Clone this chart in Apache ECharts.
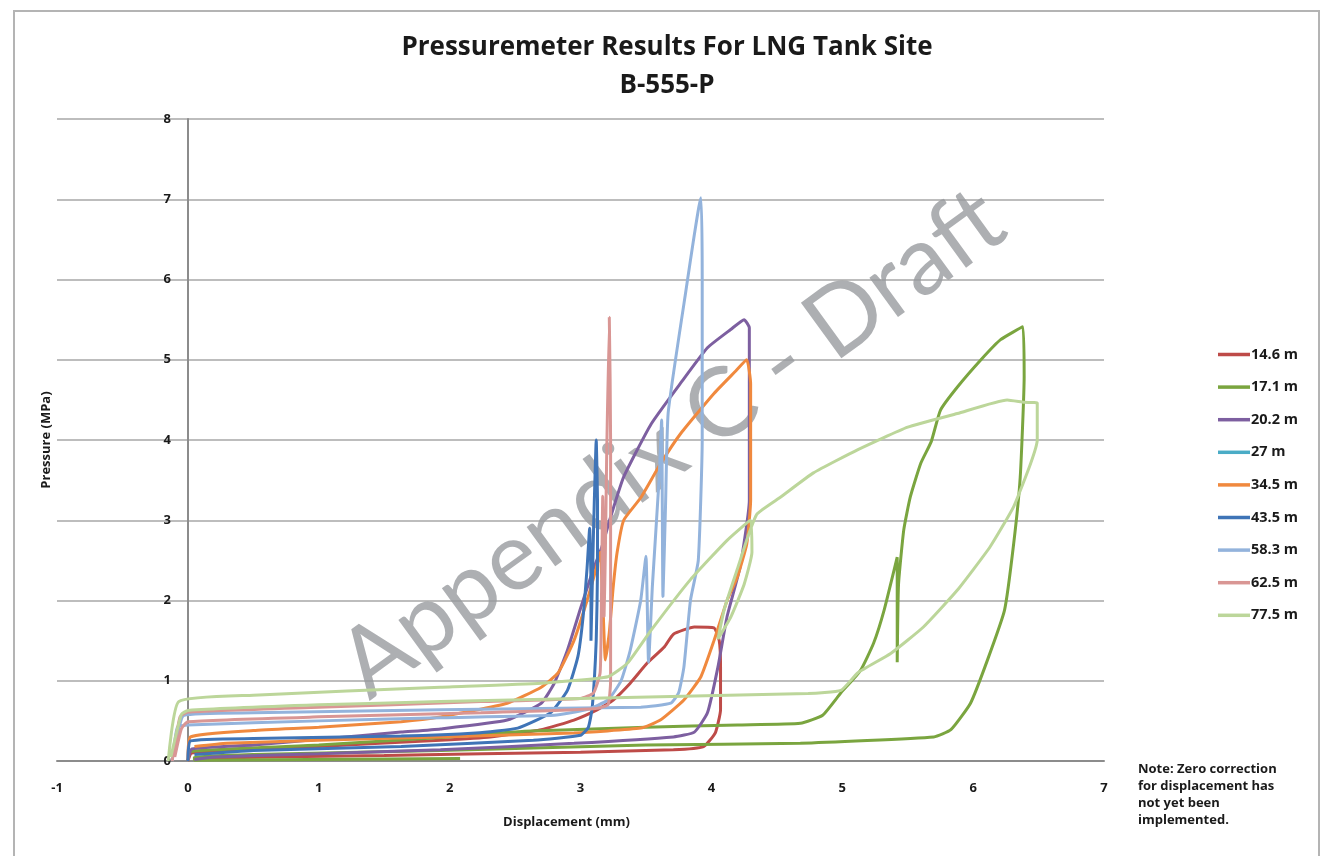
<!DOCTYPE html>
<html><head><meta charset="utf-8">
<script src="https://cdn.jsdelivr.net/npm/echarts@6/dist/echarts.min.js"></script>
<style>html,body{margin:0;padding:0;background:#fff}#c{width:1339px;height:856px}</style>
</head><body><div id="c"></div>
<script>
// ---- data (displacement mm, pressure MPa) ----
const titleLines = ['Pressuremeter Results For LNG Tank Site', 'B-555-P'];
const seriesNames = ['14.6 m', '17.1 m', '20.2 m', '27 m', '34.5 m', '43.5 m', '58.3 m', '62.5 m', '77.5 m'];
const seriesColors = ['#be4b48', '#7aa53f', '#7d5fa0', '#4aacc6', '#f0893e', '#3f74b7', '#93b3dc', '#d99694', '#bcd69a'];

const d146 = [[0,0],[0.03,0.1],[1.0,0.18],[1.93,0.26],[2.31,0.3],[2.7,0.39],[2.95,0.51],[3.13,0.64],[3.25,0.76],[3.38,0.97],[3.51,1.22],[3.64,1.42],[3.71,1.58],[3.87,1.67],[4.02,1.66],[4.06,1.5],[4.07,1.17],[4.07,0.64],[4.03,0.35],[3.94,0.18],[3.71,0.14],[3.0,0.11],[1.5,0.07],[0.3,0.04],[0.05,0.02]];
const d171 = [[0,0],[0.02,0.12],[1.0,0.2],[2.0,0.3],[2.57,0.37],[3.5,0.42],[4.2,0.45],[4.68,0.47],[4.85,0.57],[4.99,0.85],[5.14,1.13],[5.24,1.47],[5.32,1.88],[5.42,2.54],[5.42,1.23],[5.43,2.2],[5.47,2.88],[5.52,3.29],[5.6,3.71],[5.68,3.98],[5.75,4.37],[5.88,4.66],[6.06,5.0],[6.21,5.25],[6.38,5.41],[6.39,4.79],[6.36,3.54],[6.31,2.71],[6.24,1.88],[6.11,1.26],[5.98,0.72],[5.83,0.39],[5.7,0.3],[4.68,0.22],[3.5,0.2],[1.93,0.13],[0.5,0.08],[0.05,0.05],[0.05,0.01],[2.08,0.03]];
const d202 = [[0,0],[0.03,0.15],[0.5,0.2],[1.0,0.27],[1.63,0.36],[1.93,0.4],[2.44,0.51],[2.7,0.72],[2.8,0.97],[2.9,1.38],[3.0,1.9],[3.1,2.4],[3.16,2.65],[3.23,3.04],[3.33,3.54],[3.54,4.2],[3.77,4.72],[3.97,5.15],[4.15,5.38],[4.25,5.5],[4.29,5.4],[4.29,4.5],[4.29,3.25],[4.22,2.42],[4.12,1.8],[4.05,1.17],[3.97,0.6],[3.87,0.36],[3.71,0.3],[2.95,0.22],[1.93,0.14],[1.0,0.09],[0.2,0.05],[0.05,0.02]];
const d27 = [];
const d345 = [[0,0],[0.02,0.3],[0.5,0.38],[1.0,0.42],[1.63,0.49],[1.93,0.55],[2.44,0.72],[2.7,0.92],[2.83,1.1],[2.95,1.5],[3.05,2.0],[3.12,2.4],[3.15,2.6],[3.17,2.0],[3.19,1.26],[3.22,1.6],[3.25,2.17],[3.28,2.6],[3.33,3.0],[3.46,3.28],[3.61,3.7],[3.77,4.09],[4.02,4.58],[4.18,4.85],[4.27,5.0],[4.3,4.7],[4.3,3.25],[4.27,2.7],[4.2,2.3],[4.12,2.0],[4.02,1.5],[3.92,1.05],[3.79,0.76],[3.61,0.51],[3.46,0.41],[2.95,0.35],[1.93,0.3],[1.0,0.26],[0.3,0.22],[0.05,0.18]];
const d435 = [[0,0],[0.02,0.25],[0.5,0.28],[1.63,0.31],[2.2,0.35],[2.52,0.41],[2.77,0.6],[2.9,0.88],[2.98,1.3],[3.02,1.8],[3.05,2.4],[3.07,2.9],[3.08,2.2],[3.08,1.5],[3.09,2.2],[3.1,2.9],[3.11,3.5],[3.12,4.0],[3.13,3.2],[3.13,2.4],[3.12,1.5],[3.09,0.67],[3.06,0.42],[3.0,0.32],[2.64,0.26],[1.63,0.18],[0.5,0.13],[0.05,0.08]];
const d583 = [[-0.12,0],[-0.08,0.42],[0.0,0.45],[1.0,0.5],[1.93,0.54],[2.8,0.57],[3.05,0.64],[3.21,0.76],[3.31,1.0],[3.38,1.38],[3.46,2.0],[3.5,2.55],[3.52,1.23],[3.55,2.2],[3.6,3.5],[3.62,4.25],[3.63,2.05],[3.65,3.2],[3.67,4.34],[3.8,5.8],[3.92,7.02],[3.93,6.0],[3.93,4.0],[3.9,2.5],[3.84,2.0],[3.79,1.17],[3.75,0.85],[3.69,0.72],[3.46,0.67],[1.93,0.64],[0.5,0.6],[-0.03,0.57],[-0.1,0.1]];
const d625 = [[-0.12,0],[-0.06,0.55],[0.0,0.61],[1.0,0.67],[2.24,0.74],[3.0,0.78],[3.1,0.85],[3.15,1.1],[3.16,2.0],[3.17,3.3],[3.18,1.8],[3.19,2.6],[3.2,3.8],[3.22,5.53],[3.23,4.0],[3.23,2.5],[3.23,1.0],[3.21,0.7],[3.1,0.65],[2.24,0.6],[1.0,0.55],[0.0,0.49],[-0.05,0.4],[-0.1,0.05]];
const d775 = [[-0.15,0],[-0.07,0.74],[0.5,0.82],[1.93,0.92],[2.7,0.97],[3.21,1.05],[3.36,1.22],[3.54,1.63],[3.84,2.26],[4.12,2.75],[4.3,3.0],[4.31,2.6],[4.25,2.2],[4.15,1.8],[4.05,1.52],[4.1,1.9],[4.2,2.4],[4.28,2.8],[4.35,3.08],[4.53,3.29],[4.78,3.59],[5.12,3.88],[5.5,4.16],[5.88,4.33],[6.26,4.5],[6.39,4.47],[6.49,4.46],[6.49,4.0],[6.44,3.71],[6.31,3.17],[6.13,2.67],[5.88,2.13],[5.62,1.67],[5.37,1.34],[5.12,1.1],[4.99,0.88],[4.74,0.84],[3.0,0.78],[1.93,0.74],[1.0,0.7],[0.0,0.63],[-0.05,0.58],[-0.13,0.05]];
const seriesData = [d146, d171, d202, d27, d345, d435, d583, d625, d775];

const xMin = -1, xMax = 7, xStep = 1;
const yMin = 0, yMax = 8, yStep = 1;
const noteLines = ['Note: Zero correction', 'for displacement has', 'not yet been', 'implemented.'];
const watermark = 'Appendix C - Draft';

const font = '"Open Sans", Lato, sans-serif';
const chart = echarts.init(document.getElementById('c'));
chart.setOption({
  animation: false,
  backgroundColor: '#fff',
  title: {
    text: titleLines.join('\n'), left: 662, top: 24, textAlign: 'center',
    textStyle: { fontFamily: font, fontWeight: 'bold', fontSize: 26, lineHeight: 38, color: '#1a1a1a' }
  },
  grid: { left: 57, right: 235, top: 119, bottom: 95, outerBoundsMode: 'none', containLabel: false },
  xAxis: {
    type: 'value', min: xMin, max: xMax, interval: xStep,
    name: 'Displacement (mm)', nameLocation: 'middle', nameGap: 55,
    nameTextStyle: { fontFamily: font, fontWeight: 'bold', fontSize: 13, color: '#1a1a1a', padding: [0, 28, 0, 0] },
    axisLine: { show: true, lineStyle: { color: '#8c8c8c', width: 2 } },
    axisTick: { show: false },
    axisLabel: { margin: 21, fontFamily: font, fontWeight: 'bold', fontSize: 13, color: '#1a1a1a' },
    splitLine: { show: false }
  },
  yAxis: {
    type: 'value', min: yMin, max: yMax, interval: yStep, offset: -130.9,
    name: 'Pressure (MPa)', nameLocation: 'middle', nameGap: 135, nameRotate: 90,
    nameTextStyle: { fontFamily: font, fontWeight: 'bold', fontSize: 13, color: '#1a1a1a' },
    axisLine: { show: true, onZero: false, lineStyle: { color: '#8c8c8c', width: 2 } },
    axisTick: { show: false },
    axisLabel: { margin: 17, fontFamily: font, fontWeight: 'bold', fontSize: 13, color: '#1a1a1a' },
    splitLine: { show: true, lineStyle: { color: '#bdbdbd', width: 2 } }
  },
  legend: {
    orient: 'vertical', left: 1213, top: 342,
    data: seriesNames, icon: 'rect', itemWidth: 32, itemHeight: 3.5, itemGap: 17.6,
    textStyle: { fontFamily: font, fontWeight: 'bold', fontSize: 14.5, color: '#1a1a1a', lineHeight: 14, padding: [0,0,0,-4] }
  },
  graphic: [
    { type: 'rect', shape: { x: 14, y: 11, width: 1305, height: 870 }, style: { fill: 'none', stroke: '#b4b4b4', lineWidth: 2 }, z: 0 },
    { type: 'text', x: 672, y: 443, rotation: 36 * Math.PI / 180, z: 1,
      style: { text: watermark, fontFamily: 'Lato, sans-serif', fontSize: 96, fill: 'rgba(150,152,156,0.78)', textAlign: 'center', textVerticalAlign: 'middle' } },
    { type: 'text', left: 1138, top: 761,
      style: { text: noteLines.join('\n'), fontFamily: font, fontWeight: 'bold', fontSize: 13, lineHeight: 17, fill: '#1a1a1a' } }
  ],
  series: seriesNames.map((n, i) => ({
    name: n, type: 'line', data: seriesData[i], showSymbol: false, symbol: 'none', smooth: 0.15,
    color: seriesColors[i], lineStyle: { width: 3, color: seriesColors[i] }, z: 3 + i
  }))
});
</script></body></html>
